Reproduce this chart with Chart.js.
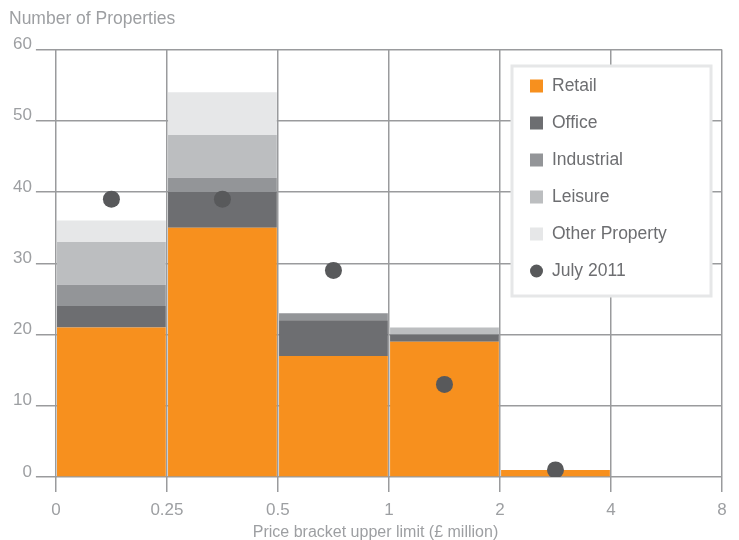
<!DOCTYPE html>
<html>
<head>
<meta charset="utf-8">
<script src="https://cdn.jsdelivr.net/npm/chart.js@4"></script>
<style>
  html, body { margin: 0; padding: 0; background: #fff; }
</style>
</head>
<body>
<canvas id="chart" width="739" height="540"></canvas>
<script>
// price brackets (one slot each) and the boundary labels shown under the axis
const brackets = ['0-0.25', '0.25-0.5', '0.5-1', '1-2', '2-4', '4-8'];
const xTickLabels = ['0', '0.25', '0.5', '1', '2', '4', '8'];

const retail = [21, 35, 17, 19, 1, 0];
const office = [3, 5, 5, 1, 0, 0];
const industrial = [3, 2, 1, 0, 0, 0];
const leisure = [6, 6, 0, 1, 0, 0];
const otherProperty = [3, 6, 0, 0, 0, 0];
const july2011 = [39, 39, 29, 13, 1];

const X_TITLE = 'Price bracket upper limit (£ million)';

const FONT = "'Liberation Sans', Arial, sans-serif";
const AXIS_GREY = '#9d9fa2';
const GRID_GREY = '#9a9b9d';

Chart.defaults.font.family = FONT;

// bars sit in the middle of each bracket slot on a linear axis
function slotPoints(values) {
  return values.map((v, i) => ({ x: i + 0.5, y: v }));
}

function barSet(label, values, colour) {
  return {
    label: label,
    data: slotPoints(values),
    backgroundColor: colour,
    borderWidth: 0,
    barPercentage: 0.98,
    categoryPercentage: 1
  };
}

// legend panel inside the plot plus the x axis caption (off-centre in the original)
const legendBox = {
  id: 'legendBox',
  afterDraw(chart) {
    const ctx = chart.ctx;
    ctx.save();
    ctx.fillStyle = '#fff';
    ctx.fillRect(512, 66, 199, 230);
    ctx.strokeStyle = '#e6e7e8';
    ctx.lineWidth = 3;
    ctx.strokeRect(512, 66, 199, 230);

    ctx.font = '17.5px ' + FONT;
    ctx.textBaseline = 'middle';
    chart.data.datasets.forEach((ds, i) => {
      const y = 86 + i * 37;
      if (ds.type === 'line') {
        ctx.fillStyle = ds.pointBackgroundColor;
        ctx.beginPath();
        ctx.arc(536.5, y, 6.5, 0, Math.PI * 2);
        ctx.fill();
      } else {
        ctx.fillStyle = ds.backgroundColor;
        ctx.fillRect(530, y - 6.5, 13, 13);
      }
      ctx.fillStyle = '#6d6e71';
      ctx.fillText(ds.label, 552, y);
    });

    ctx.font = '16px ' + FONT;
    ctx.fillStyle = AXIS_GREY;
    ctx.textAlign = 'center';
    ctx.fillText(X_TITLE, 375.5, 533);
    ctx.restore();
  }
};

new Chart(document.getElementById('chart'), {
  type: 'bar',
  data: {
    labels: brackets,
    datasets: [
      barSet('Retail', retail, '#f7901e'),
      barSet('Office', office, '#6d6e71'),
      barSet('Industrial', industrial, '#939598'),
      barSet('Leisure', leisure, '#bcbec0'),
      barSet('Other Property', otherProperty, '#e6e7e8'),
      {
        type: 'line',
        label: 'July 2011',
        stack: 'july',
        data: slotPoints(july2011),
        showLine: false,
        pointRadius: 8.5,
        pointBorderWidth: 0,
        pointBackgroundColor: '#58595b',
        order: -1
      }
    ]
  },
  options: {
    responsive: false,
    animation: false,
    layout: { padding: { left: 9, right: 17, top: 0, bottom: 11.6 } },
    plugins: {
      legend: { display: false },
      tooltip: { enabled: false },
      title: {
        display: true,
        text: 'Number of Properties',
        align: 'start',
        color: AXIS_GREY,
        font: { size: 17.5, weight: 'normal' },
        padding: { top: 9, bottom: 19.5 }
      }
    },
    scales: {
      x: {
        type: 'linear',
        min: 0,
        max: 6,
        stacked: true,
        offset: false,
        grid: { offset: false, color: GRID_GREY, lineWidth: 1.5, tickLength: 15 },
        border: { display: false },
        ticks: {
          stepSize: 1,
          autoSkip: false,
          maxRotation: 0,
          padding: 8,
          color: AXIS_GREY,
          font: { size: 17 },
          callback: v => xTickLabels[v]
        }
      },
      y: {
        stacked: true,
        min: 0,
        max: 60,
        grid: { color: GRID_GREY, lineWidth: 1.5, tickLength: 20 },
        border: { display: false },
        ticks: {
          stepSize: 10,
          padding: 4,
          labelOffset: -5,
          color: AXIS_GREY,
          font: { size: 17 }
        }
      }
    }
  },
  plugins: [legendBox]
});
</script>
</body>
</html>
